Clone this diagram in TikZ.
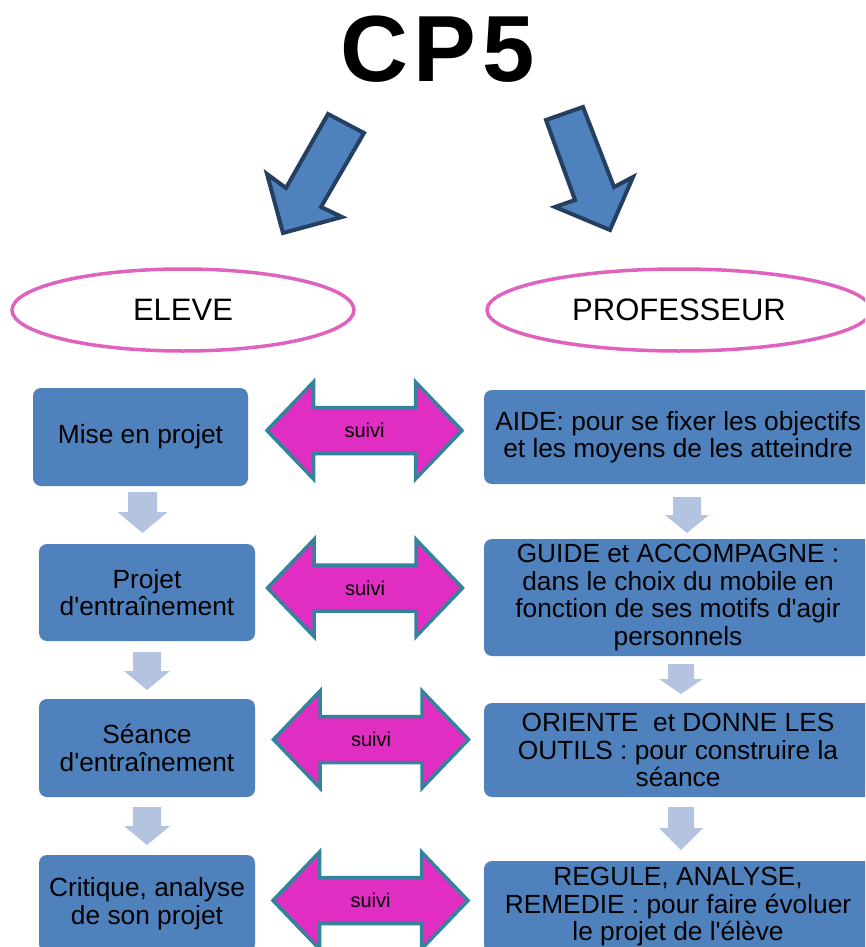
\documentclass[tikz,border=0pt]{standalone}
\usepackage{fontspec}
\setmainfont{Liberation Sans}
\usetikzlibrary{shapes.geometric}
\definecolor{boxblue}{HTML}{4F81BD}
\definecolor{darkblue}{HTML}{243F60}
\definecolor{lightarr}{HTML}{B4C4E0}
\definecolor{pinkline}{HTML}{DE62BE}
\definecolor{magentafill}{HTML}{E02DC2}
\definecolor{tealline}{HTML}{31849B}
\newcommand{\DownArr}[6]{\fill[smallarr] (#1-#5,#2) -- (#1+#5,#2) -- (#1+#5,#3) -- (#1+#6,#3) -- (#1,#4) -- (#1-#6,#3) -- (#1-#5,#3) -- cycle;}
\newcommand{\DblArr}[3]{%
  \filldraw[dblarr] (#1-97.5,#2) -- (#1-51,#2-48.5) -- (#1-51,#2-23) -- (#1+51,#2-23) -- (#1+51,#2-48.5) -- (#1+97.5,#2) -- (#1+51,#2+48.5) -- (#1+51,#2+23) -- (#1-51,#2+23) -- (#1-51,#2+48.5) -- cycle;
  \node[suivitxt] (#3) at (#1,#2) {suivi};}
\begin{document}
\begin{tikzpicture}[x=1pt,y=-1pt,
  bigarr/.style={fill=boxblue,draw=darkblue,line width=4pt,line join=miter},
  smallarr/.style={fill=lightarr},
  dblarr/.style={fill=magentafill,draw=tealline,line width=3.5pt,line join=miter},
  suivitxt/.style={font=\fontsize{20}{22}\selectfont,inner sep=0pt},
  roleell/.style={ellipse,draw=pinkline,line width=3.5pt,inner sep=0pt,font=\fontsize{31}{34}\selectfont},
  stepbox/.style={rectangle,rounded corners=8pt,fill=boxblue,draw=none,inner sep=0pt,align=center,font=\fontsize{26.3}{27.5}\selectfont}
]
\useasboundingbox (0,0) rectangle (865,947);
\clip (0,0) rectangle (865,947);

% title
\node[font=\fontsize{94}{94}\bfseries\selectfont,inner sep=0pt] (title) at (437.5,49) {C\kern6pt P\kern6pt 5};

% big arrows
\filldraw[bigarr] (328,114) -- (364,133) -- (321,207) -- (342,217) -- (283,233) -- (267,174) -- (286,188) -- cycle;
\filldraw[bigarr] (546,120) -- (583,107) -- (614,187) -- (633,177) -- (610,230) -- (555,207) -- (575,200) -- cycle;

% ellipses
\node[roleell,minimum width=342pt,minimum height=82pt] (eleve) at (183,310) {ELEVE};
\node[roleell,minimum width=384pt,minimum height=82pt] (prof) at (679,310) {PROFESSEUR};

% left boxes
\node[stepbox,minimum width=215pt,minimum height=98pt] (b1) at (140.5,437) {Mise en projet};
\node[stepbox,minimum width=216pt,minimum height=97pt] (b2) at (147,592.5) {Projet\\d\textquotesingle entraînement};
\node[stepbox,minimum width=216pt,minimum height=98pt] (b3) at (147,748) {Séance\\d\textquotesingle entraînement};
\node[stepbox,minimum width=216pt,minimum height=97pt] (b4) at (147,903.5) {Critique, analyse\\de son projet};

% right boxes
\node[stepbox,minimum width=388pt,minimum height=94pt] (r1) at (678,437) {AIDE: pour se fixer les objectifs\\et les moyens de les atteindre};
\node[stepbox,minimum width=388pt,minimum height=117pt] (r2) at (678,597.5) {GUIDE et ACCOMPAGNE :\\dans le choix du mobile en\\fonction de ses motifs d\textquotesingle agir\\personnels};
\node[stepbox,minimum width=388pt,minimum height=94pt] (r3) at (678,750) {ORIENTE~ et DONNE LES\\OUTILS : pour construire la\\séance};
\node[stepbox,minimum width=388pt,minimum height=92pt] (r4) at (678,907) {REGULE, ANALYSE,\\REMEDIE : pour faire évoluer\\le projet de l\textquotesingle élève};

% small down arrows
\DownArr{142.5}{492}{512}{533}{14.5}{25}
\DownArr{147}{652}{671}{690}{14}{23}
\DownArr{147}{807}{826}{845}{14}{23}
\DownArr{687}{497}{515}{533}{14}{22}
\DownArr{681}{664}{679}{694}{13}{22}
\DownArr{681}{807}{828}{850}{13}{22}

% double arrows
\DblArr{364.5}{430.5}{s1}
\DblArr{365}{588}{s2}
\DblArr{371}{739.5}{s3}
\DblArr{370.5}{900.5}{s4}
\end{tikzpicture}
\end{document}
